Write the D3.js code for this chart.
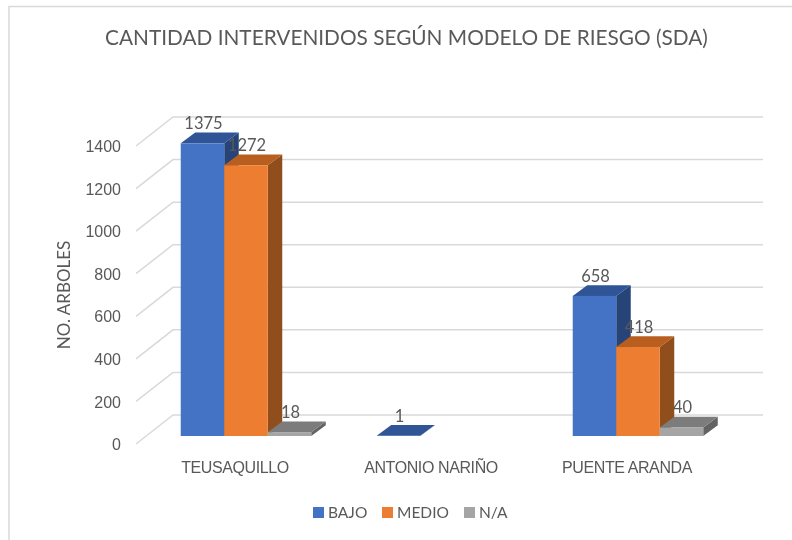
<!DOCTYPE html>
<html>
<head>
<meta charset="utf-8">
<script src="https://cdn.jsdelivr.net/npm/d3@7"></script>
<style>
body { margin: 0; background: #fff; }
svg { display: block; font-family: Lato, "Open Sans", sans-serif; filter: blur(0.4px); }
text { fill: #595959; }
</style>
</head>
<body>
<svg id="chart" width="792" height="540"></svg>
<script>
var categories = ["TEUSAQUILLO", "ANTONIO NARIÑO", "PUENTE ARANDA"];
var seriesNames = ["BAJO", "MEDIO", "N/A"];
var bajo = [1375, 1, 658];
var medio = [1272, null, 418];
var na = [18, null, 40];
var yTicks = [0, 200, 400, 600, 800, 1000, 1200, 1400];

var values = [bajo, medio, na];
var colors = ["#4472C4", "#ED7D31", "#A5A5A5"];
var topColors = ["#2F5597", "#B85F20", "#7C7C7C"];
var sideColors = ["#264478", "#8F4E1C", "#636363"];

// bar depth in the fake 3d, and how far the walls go back
var depth = {x: 14.5, y: 10.7};
var wall = {left: 136, back: 173, right: 763, front: 8, rear: -21};

var svg = d3.select("#chart");

var y = d3.scaleLinear().domain([0, 1400]).range([436, 138]);
var x = d3.scaleBand().domain(categories).range([148, 736]).paddingInner(0.334).paddingOuter(0.167);
var xSeries = d3.scaleBand().domain(seriesNames).range([0, x.bandwidth()]);

// outer frame
svg.append("path")
    .attr("d", "M9,540V6.5H792")
    .attr("fill", "none")
    .attr("stroke", "#D9D9D9")
    .attr("stroke-width", 1.5);

svg.append("text")
    .attr("x", 406.5)
    .attr("y", 45)
    .attr("text-anchor", "middle")
    .style("font-size", "20.8px")
    .text("CANTIDAD INTERVENIDOS SEGÚN MODELO DE RIESGO (SDA)");

// gridlines: back wall plus the slanted left wall
var grid = svg.append("g")
    .attr("fill", "none")
    .attr("stroke", "#D9D9D9")
    .attr("stroke-width", 1.5);
yTicks.forEach(function(t) {
    grid.append("path").attr("d", d3.line()([
        [wall.left, y(t) + wall.front],
        [wall.back, y(t) + wall.rear],
        [wall.right, y(t) + wall.rear]
    ]));
});

var yAxis = d3.axisLeft(y).tickValues(yTicks).tickSize(0).tickPadding(0).tickFormat(d3.format("d"));
var yG = svg.append("g")
    .attr("transform", "translate(121,8.5)")
    .call(yAxis);
yG.select(".domain").remove();
yG.selectAll("text").style("font-size", "16px");

svg.append("text")
    .attr("transform", "translate(70,295) rotate(-90)")
    .attr("text-anchor", "middle")
    .style("font-size", "17px")
    .text("NO. ARBOLES");

var xAxis = d3.axisBottom(x).tickSize(0).tickPadding(0);
var xG = svg.append("g")
    .attr("transform", "translate(-11,462)")
    .call(xAxis);
xG.select(".domain").remove();
xG.selectAll("text")
    .style("font-size", "16px")
    .style("letter-spacing", "-0.4px");

var bars = svg.append("g");
var labels = svg.append("g");
categories.forEach(function(cat, c) {
    seriesNames.forEach(function(name, s) {
        var v = values[s][c];
        if (v === null) return;
        var x0 = x(cat) + xSeries(name);
        var x1 = x0 + xSeries.bandwidth();
        var y0 = y(0);
        var y1 = y(v);
        var g = bars.append("g");
        g.append("path")
            .attr("d", d3.line()([[x1, y0], [x1 + depth.x, y0 - depth.y], [x1 + depth.x, y1 - depth.y], [x1, y1]]))
            .attr("fill", sideColors[s]);
        g.append("path")
            .attr("d", d3.line()([[x0, y1], [x0 + depth.x, y1 - depth.y], [x1 + depth.x, y1 - depth.y], [x1, y1]]))
            .attr("fill", topColors[s]);
        g.append("rect")
            .attr("x", x0)
            .attr("y", y1)
            .attr("width", x1 - x0)
            .attr("height", y0 - y1)
            .attr("fill", colors[s]);
        labels.append("text")
            .attr("x", (x0 + x1) / 2 + 1)
            .attr("y", y1 - 14)
            .attr("text-anchor", "middle")
            .style("font-size", "16.5px")
            .text(v);
    });
});

// legend
var legendX = [313, 382, 464];
var legend = svg.append("g");
seriesNames.forEach(function(name, s) {
    legend.append("rect")
        .attr("x", legendX[s])
        .attr("y", 507)
        .attr("width", 11)
        .attr("height", 11)
        .attr("fill", colors[s]);
    legend.append("text")
        .attr("x", legendX[s] + 15)
        .attr("y", 518)
        .style("font-size", "15.5px")
        .text(name);
});
</script>
</body>
</html>
